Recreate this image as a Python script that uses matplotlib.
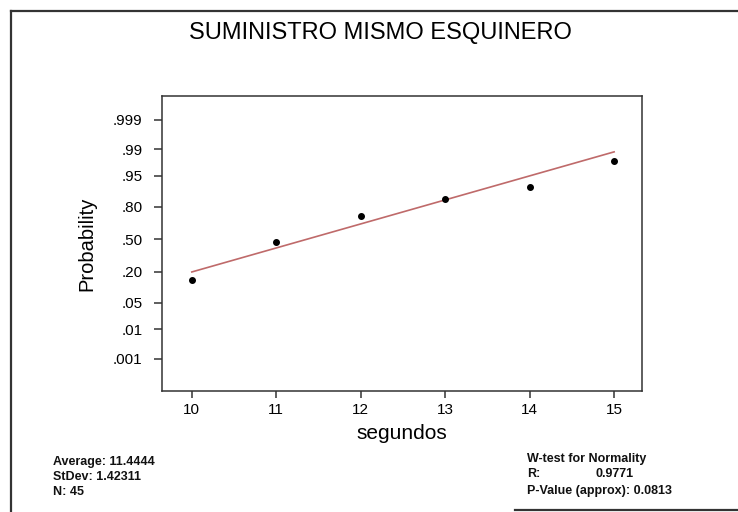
import numpy as np
import matplotlib
matplotlib.use("Agg")
import matplotlib.pyplot as plt
from matplotlib.lines import Line2D
from statistics import NormalDist

# Observed values (seconds) and their plotted cumulative probabilities
segundos = [10, 11, 12, 13, 14, 15]
probabilidad = [0.145, 0.469, 0.730, 0.848, 0.912, 0.978]

# Fitted reference line, given by its probabilities at the ends of the data range
fit_x = [10, 15]
fit_p = [0.199, 0.988]

prob_ticks = [0.001, 0.01, 0.05, 0.20, 0.50, 0.80, 0.95, 0.99, 0.999]
prob_labels = [".001", ".01", ".05", ".20", ".50", ".80", ".95", ".99", ".999"]
x_ticks = [10, 11, 12, 13, 14, 15]

title = "SUMINISTRO MISMO ESQUINERO"
stats_left = ["Average: 11.4444", "StDev: 1.42311", "N: 45"]
wtest_head = "W-test for Normality"
wtest_r = ("R:", "0.9771")
wtest_p = "P-Value (approx): 0.0813"

plt.rcParams["font.family"] = ["Liberation Sans", "DejaVu Sans"]

_nd = NormalDist()
_inv = np.vectorize(lambda p: _nd.inv_cdf(min(max(p, 1e-9), 1 - 1e-9)), otypes=[float])
_cdf = np.vectorize(lambda z: _nd.cdf(z), otypes=[float])


def forward(p):
    return _inv(np.asarray(p, dtype=float))


def inverse(z):
    return _cdf(np.asarray(z, dtype=float))


W, H = 738, 512
fig = plt.figure(figsize=(W / 100, H / 100), dpi=100)
fig.patch.set_facecolor("white")


def fx(px):
    return px / W


def fy(py):
    return 1 - py / H


ax_l, ax_r, ax_t, ax_b = 162, 642, 96, 391
ax = fig.add_axes([fx(ax_l), fy(ax_b), (ax_r - ax_l) / W, (ax_b - ax_t) / H])
ax.set_yscale("function", functions=(forward, inverse))

ax.plot(fit_x, fit_p, color="#bf6a6a", lw=1.2, zorder=2)
ax.plot(segundos, probabilidad, "o", color="black", ms=4, zorder=3)

ax.set_xlim(9.647, 15.33)
ax.set_ylim(inverse(-3.92), inverse(3.70))
ax.set_yticks(prob_ticks)
ax.set_yticklabels(prob_labels)
ax.yaxis.set_minor_locator(matplotlib.ticker.NullLocator())
ax.set_xticks(x_ticks)
ax.set_xticklabels([str(v) for v in x_ticks])

for s in ax.spines.values():
    s.set_color("#333333")
    s.set_linewidth(1.1)
ax.tick_params(axis="y", direction="out", length=6, width=1.1, color="#333333",
               labelsize=11, pad=8)
ax.tick_params(axis="x", direction="out", length=5, width=1.1, color="#333333",
               labelsize=11, pad=4)

ax.set_ylabel("Probability", fontsize=14.5, labelpad=12)
ax.set_xlabel("segundos", fontsize=15, labelpad=5)

fig.text(fx(380), fy(33), title, fontsize=17, ha="center", va="center")

for i, s in enumerate(stats_left):
    fig.text(fx(53), fy(462 + 15 * i), s, fontsize=9, fontweight="bold",
             ha="left", va="center", color="#111111")

wkw = dict(fontsize=9, fontweight="bold", ha="left", va="center", color="#111111")
fig.text(fx(527), fy(459), wtest_head, **wkw)
fig.text(fx(527), fy(474), wtest_r[0], **wkw)
fig.text(fx(595), fy(474), wtest_r[1], **wkw)
fig.text(fx(527), fy(491), wtest_p, **wkw)

# Outer frame pieces
frame_kw = dict(color="#333333", lw=1.6, transform=fig.transFigure)
fig.add_artist(Line2D([fx(11), fx(11)], [fy(11), fy(512)], **frame_kw))
fig.add_artist(Line2D([fx(11), fx(738)], [fy(11), fy(11)], **frame_kw))
fig.add_artist(Line2D([fx(515), fx(738)], [fy(510), fy(510)], **frame_kw))

fig.savefig("out.png", dpi=100, facecolor="white")
